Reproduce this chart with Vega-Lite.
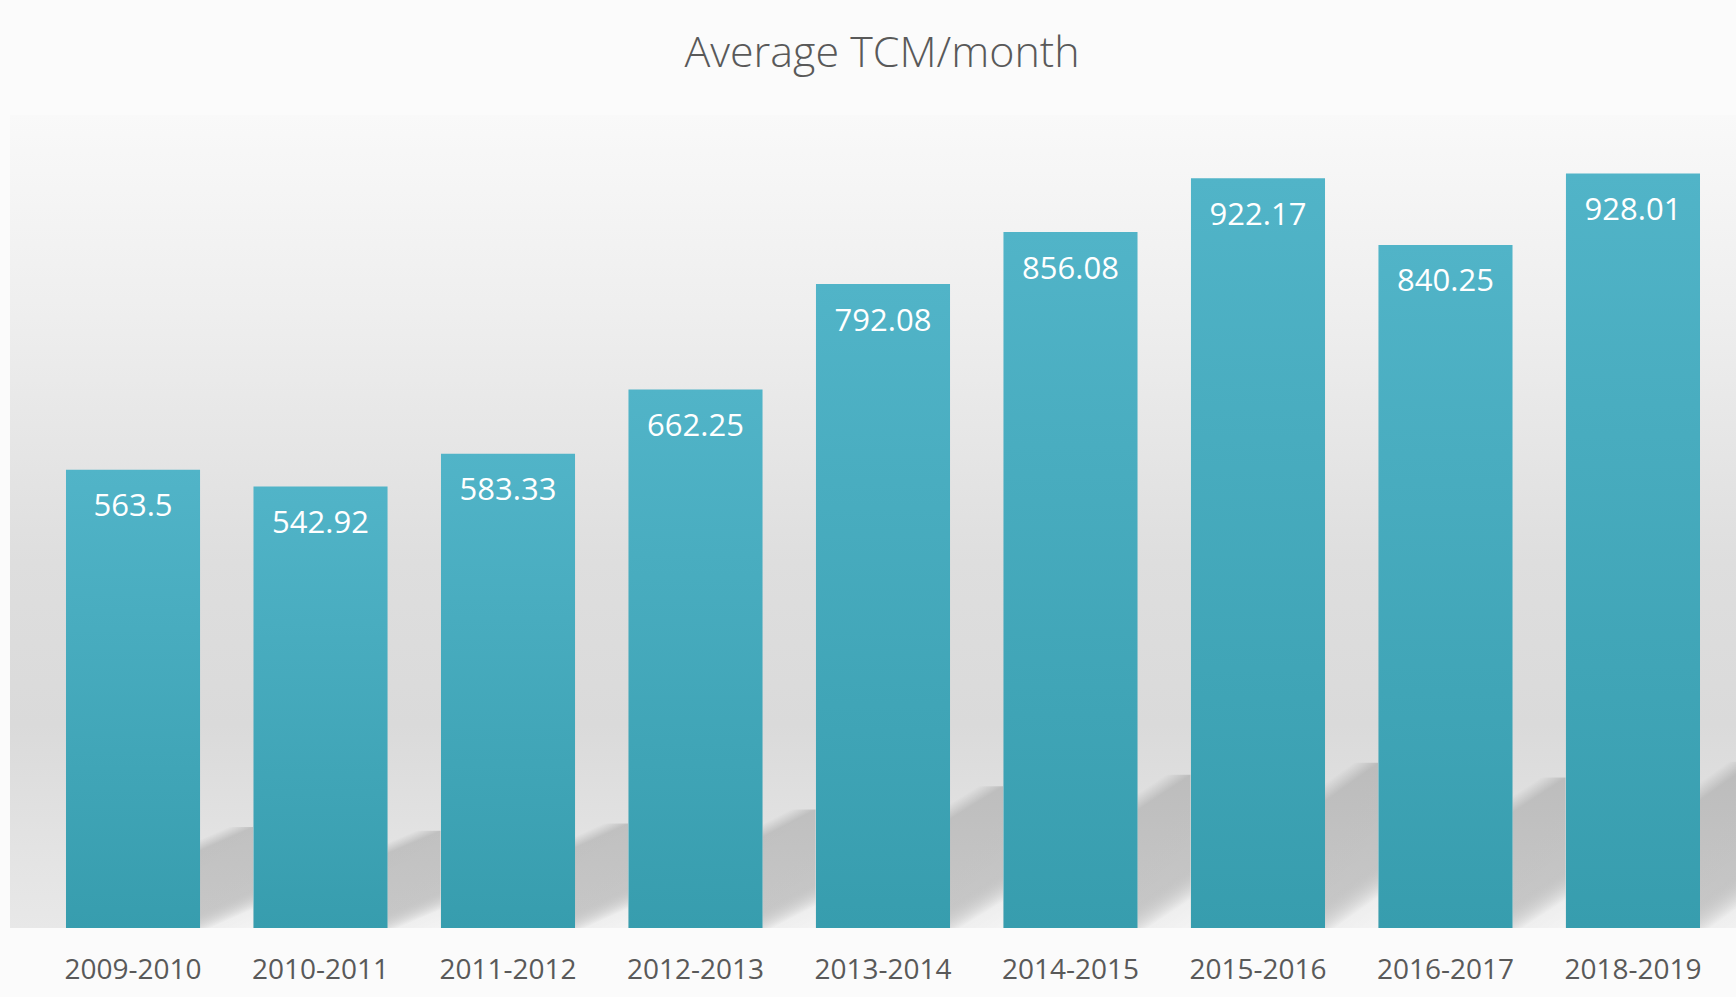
{
  "$schema": "https://vega.github.io/schema/vega-lite/v6.json",
  "width": 1726,
  "height": 813,
  "autosize": {"type": "none"},
  "padding": {"left": 10, "top": 115, "right": 0, "bottom": 69},
  "background": "#fbfbfb",
  "title": {
    "text": "Average TCM/month",
    "font": "Open Sans",
    "fontSize": 43,
    "fontWeight": 300,
    "color": "#595959",
    "anchor": "middle",
    "baseline": "alphabetic",
    "offset": 5,
    "dx": 9
  },
  "config": {
    "view": {
      "stroke": null,
      "fill": {
        "gradient": "linear",
        "x1": 0, "y1": 0, "x2": 0, "y2": 1,
        "stops": [
          {"offset": 0, "color": "#f9f9f9"},
          {"offset": 0.25, "color": "#eeeeee"},
          {"offset": 0.55, "color": "#dedede"},
          {"offset": 0.75, "color": "#dadada"},
          {"offset": 0.9, "color": "#e3e3e3"},
          {"offset": 1, "color": "#e8e8e8"}
        ]
      }
    }
  },
  "data": {
    "values": [
      {"period": "2009-2010", "tcm": 563.5},
      {"period": "2010-2011", "tcm": 542.92},
      {"period": "2011-2012", "tcm": 583.33},
      {"period": "2012-2013", "tcm": 662.25},
      {"period": "2013-2014", "tcm": 792.08},
      {"period": "2014-2015", "tcm": 856.08},
      {"period": "2015-2016", "tcm": 922.17},
      {"period": "2016-2017", "tcm": 840.25},
      {"period": "2018-2019", "tcm": 928.01}
    ]
  },
  "encoding": {
    "x": {
      "field": "period",
      "type": "nominal",
      "sort": null,
      "scale": {"paddingInner": 0.285, "paddingOuter": 0.2453, "align": 0.6087},
      "axis": {
        "title": null,
        "labelAngle": 0,
        "labelFont": "Open Sans",
        "labelFontSize": 28,
        "labelColor": "#595959",
        "labelBaseline": "alphabetic",
        "labelPadding": 50,
        "ticks": false,
        "tickSize": 0,
        "domain": false,
        "grid": false
      }
    }
  },
  "layer": [
    {
      "mark": {
        "type": "bar",
        "width": 53,
        "xOffset": 93.5,
        "clip": true,
        "color": {
          "gradient": "linear",
          "x1": 0, "y1": 0, "x2": 0.269, "y2": 1.168,
          "stops": [
            {"offset": 0, "color": "rgba(0,0,0,0)"},
            {"offset": 0.1, "color": "rgba(0,0,0,0)"},
            {"offset": 0.19, "color": "rgba(0,0,0,0.15)"},
            {"offset": 0.68, "color": "rgba(0,0,0,0.14)"},
            {"offset": 0.85, "color": "rgba(255,255,255,0.3)"},
            {"offset": 1, "color": "rgba(255,255,255,0.5)"}
          ]
        }
      },
      "encoding": {
        "y": {"field": "tcm", "type": "quantitative", "scale": {"domain": [0, 4540], "nice": false}, "axis": null}
      }
    },
    {
      "mark": {
        "type": "bar",
        "color": {
          "gradient": "linear",
          "x1": 0, "y1": 0, "x2": 0, "y2": 1,
          "stops": [
            {"offset": 0, "color": "#51b4c8"},
            {"offset": 1, "color": "#379dae"}
          ]
        }
      },
      "encoding": {
        "y": {"field": "tcm", "type": "quantitative", "scale": {"domain": [0, 1000], "nice": false}, "axis": null}
      }
    },
    {
      "mark": {
        "type": "text",
        "font": "Open Sans",
        "fontSize": 31,
        "color": "#ffffff",
        "baseline": "alphabetic",
        "align": "center",
        "dy": 46.5
      },
      "encoding": {
        "y": {"field": "tcm", "type": "quantitative", "scale": {"domain": [0, 1000], "nice": false}, "axis": null},
        "text": {"field": "tcm", "type": "nominal"}
      }
    }
  ],
  "resolve": {"scale": {"y": "independent"}}
}
